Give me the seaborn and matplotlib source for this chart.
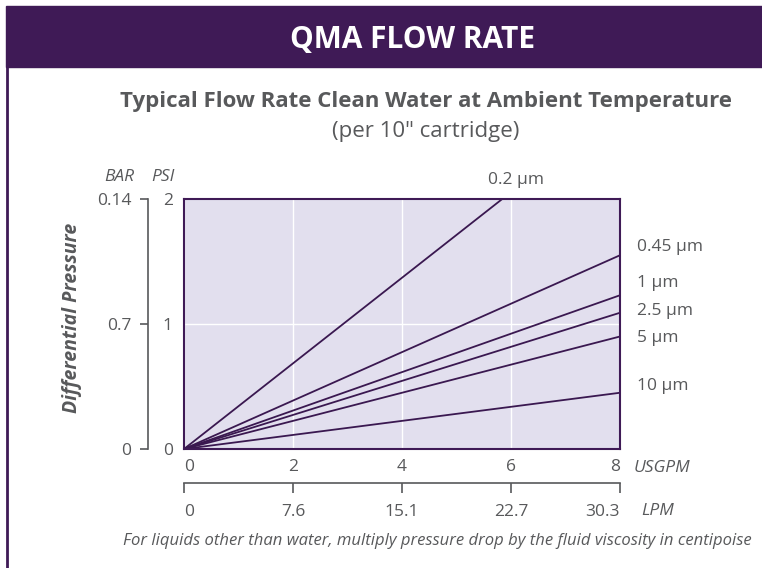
import pandas as pd
import numpy as np
import matplotlib.pyplot as plt
import seaborn as sns
from matplotlib.patches import Rectangle

# ratings and the differential pressure (psi) each reaches at 8 USGPM
sizes = ['0.2 µm', '0.45 µm', '1 µm', '2.5 µm', '5 µm', '10 µm']
psi_at_8 = [2.74, 1.55, 1.23, 1.09, 0.90, 0.45]
flow_usgpm = [0, 8]

usgpm_ticks = [0, 2, 4, 6, 8]
usgpm_labels = ['0', '2', '4', '6', '8']
lpm_labels = ['0', '7.6', '15.1', '22.7', '30.3']
psi_ticks = [0, 1, 2]
psi_labels = ['0', '1', '2']
bar_labels = ['0', '0.7', '0.14']

PURPLE = '#3F1A56'
LINE = '#3A1850'
FACE = '#E2DFEE'
GRAY = '#58595B'

rows = []
for s, p in zip(sizes, psi_at_8):
    for f in flow_usgpm:
        rows.append({'size': s, 'usgpm': f, 'psi': p * f / flow_usgpm[-1]})
df = pd.DataFrame(rows)

sns.set_style('white')
plt.rcParams['font.family'] = ['Open Sans', 'DejaVu Sans']

W, H = 762, 568
fig = plt.figure(figsize=(W / 100, H / 100), dpi=100)


def box(l, t, r, b):
    return [l / W, 1 - b / H, (r - l) / W, (b - t) / H]


def end_align(axis):
    # first label sits right of its tick, last one left of it
    labels = axis.get_ticklabels()
    labels[0].set_ha('left')
    labels[-1].set_ha('right')


# header band and left frame line
fig.patches.append(Rectangle((6 / W, 1 - 67 / H), 1 - 6 / W, 61 / H,
                             transform=fig.transFigure, color=PURPLE, zorder=0))
fig.add_artist(plt.Line2D([6.5 / W, 6.5 / W], [0, 1 - 67 / H], color=PURPLE, lw=2))
fig.text(413 / W, 1 - 40 / H, 'QMA FLOW RATE', color='white', fontsize=21.5,
         fontweight='bold', ha='center', va='center')
fig.text(426 / W, 1 - 102 / H, 'Typical Flow Rate Clean Water at Ambient Temperature',
         color=GRAY, fontsize=16, fontweight='bold', ha='center', va='center')
fig.text(426 / W, 1 - 131 / H, '(per 10" cartridge)', color=GRAY, fontsize=16,
         ha='center', va='center')
fig.text(437 / W, 1 - 541 / H,
         'For liquids other than water, multiply pressure drop by the fluid viscosity in centipoise',
         color=GRAY, fontsize=12, style='italic', ha='center', va='center')

# main plot
ax = fig.add_axes(box(184, 199, 620, 449))
ax.set_facecolor(FACE)
sns.lineplot(data=df, x='usgpm', y='psi', hue='size', hue_order=sizes,
             palette={s: LINE for s in sizes}, legend=False, lw=1.3, ax=ax)
ax.set_xlim(0, 8)
ax.set_ylim(0, 2)
ax.set_xticks(usgpm_ticks)
ax.set_xticklabels(usgpm_labels)
ax.set_yticks([1])
ax.set_yticklabels([])
ax.set_xlabel('')
ax.set_ylabel('')
ax.grid(True, color='white', lw=1)
ax.tick_params(length=0, labelsize=12.5, labelcolor=GRAY, pad=7)
end_align(ax.xaxis)
for sp in ax.spines.values():
    sp.set_color(PURPLE)
    sp.set_linewidth(1.5)

# labels at the line ends
offsets = {'0.45 µm': 6, '1 µm': 9, '2.5 µm': 1.5, '5 µm': -1, '10 µm': 5}
for s, p in zip(sizes, psi_at_8):
    if p > 2:
        x_top = 2 * flow_usgpm[-1] / p
        ax.annotate(s, xy=(x_top, 2), xytext=(10, 14), textcoords='offset points',
                    ha='center', va='center', fontsize=12.5, color=GRAY,
                    annotation_clip=False)
    else:
        ax.annotate(s, xy=(8, p), xytext=(12, offsets[s]), textcoords='offset points',
                    ha='left', va='center', fontsize=12.5, color=GRAY,
                    annotation_clip=False)
ax.annotate('USGPM', xy=(1, 0), xycoords='axes fraction', xytext=(10, -14),
            textcoords='offset points', ha='left', va='center', fontsize=12.5,
            style='italic', color=GRAY)

# BAR / PSI bracket axis
ax_bar = fig.add_axes(box(148, 199, 149, 449))
ax_bar.set_ylim(0, 2)
ax_bar.set_yticks(psi_ticks)
ax_bar.set_yticklabels(bar_labels)
ax_bar.set_xticks([])
ax_bar.patch.set_alpha(0)
for k, sp in ax_bar.spines.items():
    sp.set_visible(k == 'left')
ax_bar.spines['left'].set_color(GRAY)
ax_bar.spines['left'].set_linewidth(1.2)
ax_bar.tick_params(axis='y', left=True, direction='out', length=6, width=1.2, color=GRAY,
                   labelsize=12.5, labelcolor=GRAY, pad=6)
ax_psi = ax_bar.twinx()
ax_psi.set_ylim(0, 2)
ax_psi.set_yticks(psi_ticks)
ax_psi.set_yticklabels(psi_labels)
for sp in ax_psi.spines.values():
    sp.set_visible(False)
ax_psi.tick_params(axis='y', length=0, labelsize=12.5, labelcolor=GRAY, pad=10)
fig.text(119 / W, 1 - 177 / H, 'BAR', color=GRAY, fontsize=12.5, style='italic',
         ha='center', va='center')
fig.text(163 / W, 1 - 177 / H, 'PSI', color=GRAY, fontsize=12.5, style='italic',
         ha='center', va='center')
fig.text(72 / W, 1 - 318 / H, 'Differential Pressure', color=GRAY, fontsize=14,
         style='italic', fontweight='bold', rotation=90, ha='center', va='center')

# LPM axis
ax_lpm = fig.add_axes(box(184, 482, 620, 483))
ax_lpm.set_xlim(0, 8)
ax_lpm.set_xticks(usgpm_ticks)
ax_lpm.set_xticklabels(lpm_labels)
ax_lpm.set_yticks([])
ax_lpm.patch.set_alpha(0)
for k, sp in ax_lpm.spines.items():
    sp.set_visible(k == 'bottom')
ax_lpm.spines['bottom'].set_color(GRAY)
ax_lpm.spines['bottom'].set_linewidth(1.2)
ax_lpm.tick_params(axis='x', bottom=True, direction='out', length=7, width=1.2, color=GRAY,
                   labelsize=12.5, labelcolor=GRAY, pad=8)
end_align(ax_lpm.xaxis)
ax_lpm.annotate('LPM', xy=(1, 0), xycoords='axes fraction', xytext=(15, -20),
                textcoords='offset points', ha='left', va='center', fontsize=12.5,
                style='italic', color=GRAY)

fig.savefig('out.png', dpi=100)
